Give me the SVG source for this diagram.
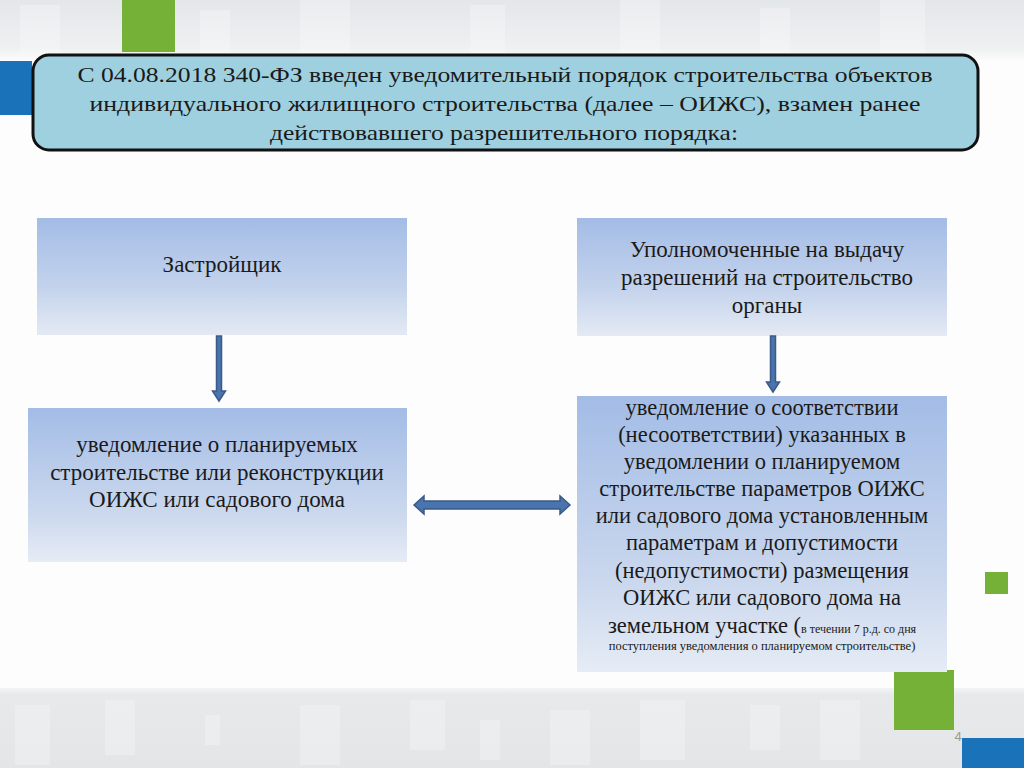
<svg xmlns="http://www.w3.org/2000/svg" width="1024" height="768" viewBox="0 0 1024 768">
<defs>
<linearGradient id="topband" x1="0" y1="0" x2="0" y2="1">
<stop offset="0" stop-color="#e4e7ea"/><stop offset="0.8" stop-color="#eef0f1"/><stop offset="1" stop-color="#fbfbfb"/>
</linearGradient>
<linearGradient id="botband" x1="0" y1="0" x2="0" y2="1">
<stop offset="0" stop-color="#f3f4f5"/><stop offset="0.08" stop-color="#e7e9eb"/><stop offset="1" stop-color="#e3e5e7"/>
</linearGradient>
<linearGradient id="boxg" x1="0" y1="0" x2="0" y2="1">
<stop offset="0" stop-color="#a3bce6"/><stop offset="0.6" stop-color="#c4d3ec"/><stop offset="1" stop-color="#e4eaf4"/>
</linearGradient>
<linearGradient id="boxg2" x1="0" y1="0" x2="0" y2="1">
<stop offset="0" stop-color="#a3bce6"/><stop offset="0.7" stop-color="#ccd9ee"/><stop offset="1" stop-color="#e6ecf5"/>
</linearGradient>
<style>
.t{font-family:"Liberation Serif","Times New Roman",serif;fill:#1a1a1a;text-anchor:middle}
.h{font-size:22px}
.b{font-size:23px}
.r{font-size:22.5px}
.s{font-size:12px}
.s2{font-size:12.5px}
.arr{fill:#4a74ae;stroke:#3a5a88;stroke-width:1.5}
.deco{fill:#ffffff;opacity:0.25}
</style>
</defs>
<rect width="1024" height="768" fill="#fdfdfd"/>
<rect x="0" y="0" width="1024" height="60" fill="url(#topband)"/>
<g class="deco">
<rect x="20" y="5" width="40" height="50"/><rect x="200" y="10" width="30" height="45"/><rect x="300" y="0" width="50" height="55"/><rect x="470" y="5" width="35" height="50"/><rect x="620" y="0" width="40" height="55"/><rect x="760" y="8" width="30" height="47"/><rect x="880" y="0" width="45" height="55"/>
</g>
<rect x="0" y="688" width="1024" height="80" fill="url(#botband)"/>
<g class="deco">
<rect x="15" y="705" width="35" height="60"/><rect x="105" y="700" width="30" height="55"/><rect x="205" y="715" width="15" height="30"/><rect x="300" y="705" width="40" height="60"/><rect x="410" y="700" width="35" height="50"/><rect x="480" y="720" width="20" height="40"/><rect x="550" y="710" width="40" height="55"/><rect x="640" y="700" width="45" height="60"/><rect x="750" y="705" width="30" height="45"/><rect x="820" y="700" width="40" height="60"/>
</g>
<rect x="122" y="0" width="53" height="52" fill="#74b136"/>
<rect x="0" y="61" width="32" height="54" fill="#1a72b8"/>
<rect x="985" y="572" width="23" height="22" fill="#74b136"/>
<rect x="894" y="670" width="60" height="60" fill="#74b136"/>
<rect x="962" y="738" width="62" height="30" fill="#1a72b8"/>
<text x="958" y="741" font-family="Liberation Sans,Arial,sans-serif" font-size="13" fill="#9a9a9a" text-anchor="middle">4</text>

<g id="header">
<rect x="33" y="55" width="945" height="95" rx="16" fill="#9fd0e0" stroke="#111" stroke-width="3"/>
<text class="t h" x="505" y="82" textLength="855" lengthAdjust="spacingAndGlyphs">С 04.08.2018 340-ФЗ введен уведомительный порядок строительства объектов</text>
<text class="t h" x="505" y="111" textLength="831" lengthAdjust="spacingAndGlyphs">индивидуального жилищного строительства  (далее – ОИЖС), взамен ранее</text>
<text class="t h" x="504" y="140" textLength="468" lengthAdjust="spacingAndGlyphs">действовавшего разрешительного порядка:</text>
</g>

<g id="developer">
<rect x="37" y="218" width="370" height="117" fill="url(#boxg)"/>
<text class="t b" x="222" y="272">Застройщик</text>
</g>

<g id="authority">
<rect x="577" y="218" width="370" height="118" fill="url(#boxg)"/>
<text class="t b" x="767" y="257">Уполномоченные на выдачу</text>
<text class="t b" x="767" y="285">разрешений на строительство</text>
<text class="t b" x="767" y="313">органы</text>
</g>

<g id="notice">
<rect x="28" y="408" width="379" height="154" fill="url(#boxg2)"/>
<text class="t b" x="217" y="452">уведомление о планируемых</text>
<text class="t b" x="217" y="480">строительстве или реконструкции</text>
<text class="t b" x="217" y="507">ОИЖС или садового дома</text>
</g>

<g id="response">
<rect x="577" y="396" width="370" height="276" fill="url(#boxg2)"/>
<text class="t r" x="762" y="415">уведомление о соответствии</text>
<text class="t r" x="762" y="442">(несоответствии) указанных в</text>
<text class="t r" x="762" y="469">уведомлении о планируемом</text>
<text class="t r" x="762" y="496">строительстве параметров ОИЖС</text>
<text class="t r" x="762" y="523">или садового дома установленным</text>
<text class="t r" x="762" y="550">параметрам  и  допустимости</text>
<text class="t r" x="762" y="578">(недопустимости) размещения</text>
<text class="t r" x="762" y="605">ОИЖС или садового дома на</text>
<text class="t r" x="762" y="633">земельном участке (<tspan class="s">в течении 7 р.д. со дня</tspan></text>
<text class="t s2" x="762" y="650">поступления уведомления о планируемом строительстве)</text>
</g>

<g id="connectors">
<path class="arr" d="M216.5,336 h5 v55 h4 l-6.5,10 l-6.5,-10 h4 z"/>
<path class="arr" d="M770.5,336 h5 v46 h4 l-6.5,10 l-6.5,-10 h4 z"/>
<path class="arr" d="M414,505 l10,-9 v5 h136 v-5 l10,9 l-10,9 v-5 h-136 v5 z"/>
</g>
</svg>
